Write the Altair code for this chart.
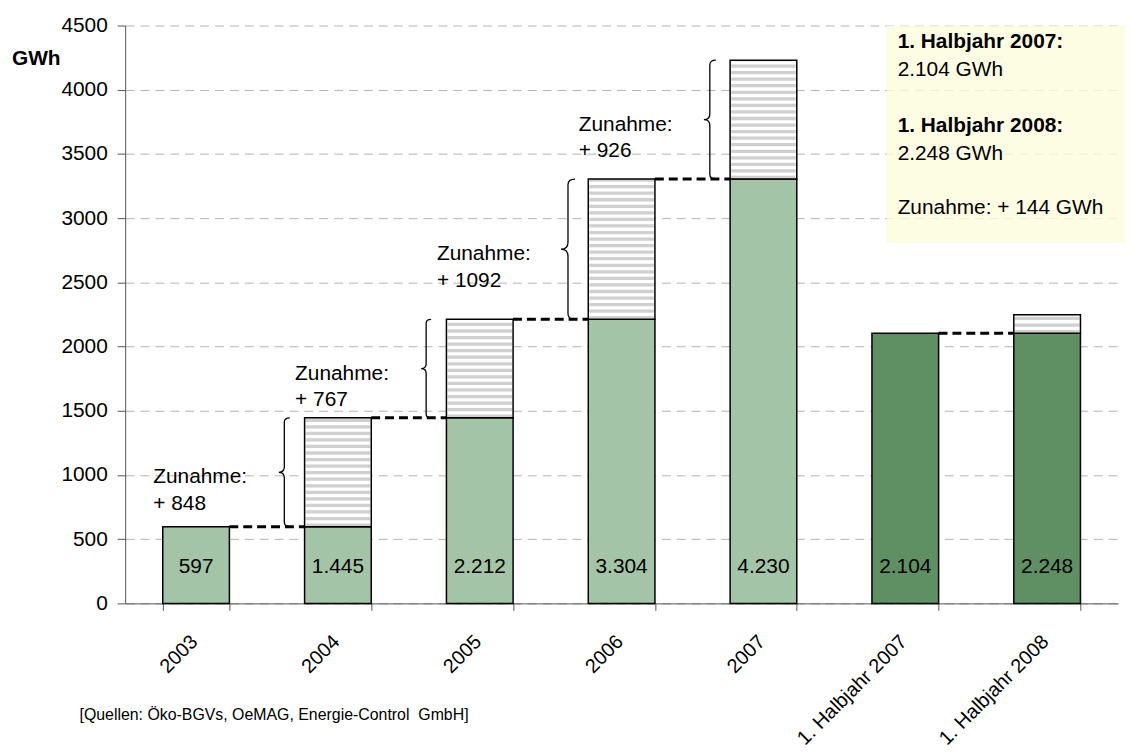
import altair as alt
import pandas as pd

# ---------------- data ----------------
categories = ["2003", "2004", "2005", "2006", "2007", "1. Halbjahr 2007", "1. Halbjahr 2008"]
base_values = [597, 597, 1445, 2212, 3304, 2104, 2104]      # green part (previous total)
total_values = [597, 1445, 2212, 3304, 4230, 2104, 2248]    # bar totals
bar_kind = ["Jahr", "Jahr", "Jahr", "Jahr", "Jahr", "Halbjahr", "Halbjahr"]
y_ticks = [0, 500, 1000, 1500, 2000, 2500, 3000, 3500, 4000, 4500]
y_unit = "GWh"
source_text = "[Quellen: Öko-BGVs, OeMAG, Energie-Control\u00a0 GmbH]"


def de(n):
    return f"{n:,}".replace(",", ".")


# ---------------- layout / style ----------------
W, H = 1000, 582
FONT = "Liberation Sans"
FS = 21
LIGHT = "#a3c4a6"
DARK = "#5f9064"

df = pd.DataFrame({"cat": categories, "base": base_values,
                   "total": total_values, "kind": bar_kind})
df["inc"] = df["total"] - df["base"]
df["label"] = [de(v) for v in total_values]
df["mid"] = df["base"] + df["inc"] / 2
df["note"] = ["Zunahme:\n+ " + str(i) for i in df["inc"]]
hatch = df[df["inc"] > 0]
braces = df[(df["inc"] > 0) & (df["kind"] == "Jahr")]

links = pd.DataFrame([
    {"from": categories[i], "to": categories[i + 1], "v": total_values[i]}
    for i in range(len(categories) - 1)
    if base_values[i + 1] == total_values[i]
])

x_scale = alt.Scale(domain=categories, paddingInner=0.53, paddingOuter=0.265)
y_scale = alt.Scale(domain=[0, 4500], nice=False)

x_enc = alt.X("cat:N", scale=x_scale, sort=categories, title=None,
              axis=alt.Axis(labelAngle=-45, labelFontSize=20, labelFont=FONT,
                            labelColor="black", labelAlign="right", labelBaseline="top",
                            labelPadding=21, labelOffset=-9,
                            tickBand="extent", tickSize=7, tickColor="#555",
                            domainColor="#555", grid=False))
y_enc = alt.Y("base:Q", scale=y_scale, title=None,
              axis=alt.Axis(values=y_ticks, format="d", labelFontSize=FS,
                            labelFont=FONT, labelColor="black", labelPadding=10,
                            tickSize=8, tickColor="#555", domainColor="#555",
                            grid=True, gridColor="#b4b4b4", gridDash=[9, 6],
                            labelFlush=False))

base_bars = alt.Chart(df).mark_bar(stroke="black", strokeWidth=1.5).encode(
    x=x_enc,
    y=y_enc,
    y2=alt.value(H),
    color=alt.Color("kind:N", scale=alt.Scale(domain=["Jahr", "Halbjahr"],
                                              range=[LIGHT, DARK]), legend=None),
)

hatch_bg = alt.Chart(hatch).mark_bar(fill="white", strokeWidth=0).encode(
    x=alt.X("cat:N", scale=x_scale, sort=categories),
    y=alt.Y("base:Q", scale=y_scale),
    y2="total:Q",
)

stripes = alt.Chart(hatch).mark_rule(color="#d0d0d0", strokeWidth=65,
                                     strokeDash=[3.3, 3.3]).encode(
    x=alt.X("cat:N", scale=x_scale, sort=categories),
    y=alt.Y("base:Q", scale=y_scale),
    y2="total:Q",
)

hatch_outline = alt.Chart(hatch).mark_bar(fillOpacity=0, stroke="black",
                                          strokeWidth=1.5).encode(
    x=alt.X("cat:N", scale=x_scale, sort=categories),
    y=alt.Y("base:Q", scale=y_scale),
    y2="total:Q",
)

connectors = alt.Chart(links).mark_rule(color="black", strokeWidth=3,
                                        strokeDash=[9, 5], xOffset=33.5,
                                        x2Offset=-33.5).encode(
    x=alt.X("from:N", scale=x_scale, sort=categories),
    x2="to:N",
    y=alt.Y("v:Q", scale=y_scale),
)

BRACE = ("M 0.1 -1 Q 0 -1 0 -0.92 L 0 -0.1 Q 0 0 -0.1 0 "
         "Q 0 0 0 0.1 L 0 0.92 Q 0 1 0.1 1")
brace_marks = alt.Chart(braces).mark_point(shape=BRACE, filled=False,
                                           stroke="black", strokeWidth=1.3,
                                           opacity=1, xOffset=-54).encode(
    x=alt.X("cat:N", scale=x_scale, sort=categories),
    y=alt.Y("mid:Q", scale=y_scale),
    size=alt.Size("inc:Q", scale=alt.Scale(type="pow", exponent=2,
                                           domain=[0, 4500], range=[0, H * H]),
                  legend=None),
)

notes = alt.Chart(braces).mark_text(lineBreak="\n", align="left", baseline="middle",
                                    font=FONT, fontSize=FS, lineHeight=27,
                                    xOffset=-186, yOffset=5, color="black").encode(
    x=alt.X("cat:N", scale=x_scale, sort=categories),
    y=alt.Y("mid:Q", scale=y_scale),
    text="note:N",
)

value_labels = alt.Chart(df).mark_text(font=FONT, fontSize=FS, color="black",
                                       baseline="middle").encode(
    x=alt.X("cat:N", scale=x_scale, sort=categories),
    y=alt.value(H - 37),
    text="label:N",
)

one = pd.DataFrame({"k": [1]})
info_box = alt.Chart(one).mark_rect(fill="#fdfddc", opacity=0.8).encode(
    x=alt.value(767), x2=alt.value(W + 7), y=alt.value(0), y2=alt.value(219),
)

h1_07 = total_values[5]
h1_08 = total_values[6]
box_lines = [
    ("1. Halbjahr 2007:", "bold", 17),
    (f"{de(h1_07)} GWh", "normal", 45),
    ("1. Halbjahr 2008:", "bold", 101),
    (f"{de(h1_08)} GWh", "normal", 129),
    (f"Zunahme: + {h1_08 - h1_07} GWh", "normal", 184),
]
box_texts = [
    alt.Chart(one).mark_text(text=t, font=FONT, fontSize=FS, fontWeight=w,
                             align="left", baseline="middle", color="black").encode(
        x=alt.value(778), y=alt.value(yy))
    for t, w, yy in box_lines
]

unit_label = alt.Chart(one).mark_text(text=y_unit, font=FONT, fontSize=FS,
                                      fontWeight="bold", align="left",
                                      baseline="middle", color="black").encode(
    x=alt.value(-114), y=alt.value(34))

source = alt.Chart(one).mark_text(text=source_text, font=FONT, fontSize=16,
                                  align="left", baseline="middle",
                                  color="black").encode(
    x=alt.value(-46), y=alt.value(694))

chart = alt.layer(
    base_bars, hatch_bg, stripes, hatch_outline, connectors, brace_marks,
    notes, value_labels, info_box, *box_texts, unit_label, source,
).properties(
    width=W, height=H,
    autosize=alt.AutoSizeParams(type="none"),
    padding={"left": 118, "top": 15, "right": 7, "bottom": 145},
).configure_view(stroke=None).configure_axis(labelFont=FONT)

chart.save("out.html", embed_options={"renderer": "svg", "actions": False})
